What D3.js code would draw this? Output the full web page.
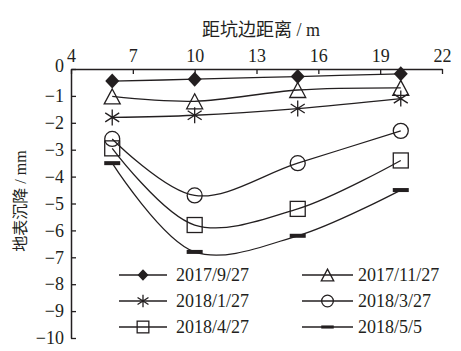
<!DOCTYPE html>
<html>
<head>
<meta charset="utf-8">
<script src="https://cdn.jsdelivr.net/npm/d3@7"></script>
<style>
  body { margin: 0; background: #fff; }
  svg { display: block; }
  text { font-family: "Liberation Serif", "Noto Sans CJK SC", serif; fill: #231f20; }
</style>
</head>
<body>
<div id="chart"></div>
<script>
// distance from pit edge (m)
const distances = [6, 10, 15, 20];
const xTicks = [4, 7, 10, 13, 16, 19, 22];
const yTicks = [0, -1, -2, -3, -4, -5, -6, -7, -8, -9, -10];

const seriesNames = ['2017/9/27', '2017/11/27', '2018/1/27', '2018/3/27', '2018/4/27', '2018/5/5'];
const seriesMarkers = ['diamond', 'triangle', 'star', 'circle', 'square', 'dash'];
const sep2017 = [-0.45, -0.38, -0.28, -0.18];
const nov2017 = [-1.02, -1.2, -0.78, -0.7];
const jan2018 = [-1.8, -1.72, -1.47, -1.1];
const mar2018 = [-2.6, -4.7, -3.5, -2.3];
const apr2018 = [-2.95, -5.8, -5.2, -3.4];
const may2018 = [-3.5, -6.8, -6.2, -4.5];
const seriesValues = [sep2017, nov2017, jan2018, mar2018, apr2018, may2018];

const width = 461;
const height = 351;
const margin = { top: 69, right: 19, bottom: 13, left: 71 };

const svg = d3.select('#chart')
    .append('svg')
    .attr('width', width)
    .attr('height', height);

svg.append('rect').attr('width', width).attr('height', height).attr('fill', '#fff');

const xScale = d3.scaleLinear().domain([4, 22]).range([margin.left, width - margin.right]);
const yScale = d3.scaleLinear().domain([-10, 0]).range([height - margin.bottom, margin.top]);

const ink = '#231f20';

// x axis on top, ticks pointing inward
const xAxis = svg.append('g')
    .attr('transform', `translate(0, ${margin.top})`)
    .call(d3.axisTop(xScale).tickValues(xTicks).tickSizeInner(-5).tickSizeOuter(0).tickPadding(9));
// y axis on left, ticks pointing inward
const yAxis = svg.append('g')
    .attr('transform', `translate(${margin.left}, 0)`)
    .call(d3.axisLeft(yScale).tickValues(yTicks).tickSizeInner(-5).tickSizeOuter(0).tickPadding(7));

[xAxis, yAxis].forEach(ax => {
    ax.select('.domain').attr('stroke', ink).attr('stroke-width', 1.5);
    ax.selectAll('.tick line').attr('stroke', ink).attr('stroke-width', 1.3);
    ax.selectAll('.tick text').style('font-size', '18px').attr('fill', ink);
});
xAxis.selectAll('.tick text').attr('dy', '0.1em');
yAxis.selectAll('.tick text').filter(d => d === 0).attr('dy', '0.15em');

// axis titles
svg.append('text')
    .attr('x', 261)
    .attr('y', 36)
    .attr('text-anchor', 'middle')
    .style('font-size', '18px')
    .text('距坑边距离 / m');

svg.append('text')
    .attr('transform', 'translate(26, 201) rotate(-90)')
    .attr('text-anchor', 'middle')
    .style('font-size', '16px')
    .text('地表沉降 / mm');

// marker drawing, k scales the symbol
function drawMarker(g, type, x, y, k = 1) {
    const s = g.append('g').attr('transform', `translate(${x}, ${y}) scale(${k})`);
    const sw = 1.3 / k;
    if (type === 'diamond') {
        s.append('path').attr('d', 'M0,-7.5L7,0L0,7.5L-7,0Z').attr('fill', ink);
    } else if (type === 'triangle') {
        s.append('path').attr('d', 'M0,-7.5L8,7.5L-8,7.5Z')
            .attr('fill', 'none').attr('stroke', ink).attr('stroke-width', sw);
    } else if (type === 'star') {
        s.append('path').attr('d', 'M0,-8V8M-7,-4.5L7,4.5M-7,4.5L7,-4.5')
            .attr('fill', 'none').attr('stroke', ink).attr('stroke-width', sw);
    } else if (type === 'circle') {
        s.append('circle').attr('r', 7.5)
            .attr('fill', 'none').attr('stroke', ink).attr('stroke-width', sw);
    } else if (type === 'square') {
        s.append('rect').attr('x', -7.5).attr('y', -7.5).attr('width', 15).attr('height', 15)
            .attr('fill', 'none').attr('stroke', ink).attr('stroke-width', sw);
    } else if (type === 'dash') {
        s.append('rect').attr('x', -8).attr('y', -2).attr('width', 16).attr('height', 4).attr('fill', ink);
    }
}

const line = d3.line()
    .x(d => xScale(d[0]))
    .y(d => yScale(d[1]))
    .curve(d3.curveCatmullRom);

const plot = svg.append('g');
seriesValues.forEach((vals, i) => {
    const pts = distances.map((d, j) => [d, vals[j]]);
    plot.append('path')
        .attr('d', line(pts))
        .attr('fill', 'none')
        .attr('stroke', ink)
        .attr('stroke-width', 1.3);
});
seriesValues.forEach((vals, i) => {
    distances.forEach((d, j) => drawMarker(plot, seriesMarkers[i], xScale(d), yScale(vals[j])));
});

// legend
const legendCols = [{ x0: 119, x1: 167, tx: 176 }, { x0: 302, x1: 353, tx: 358 }];
const legendRows = [275, 301, 327];
const legend = svg.append('g');
seriesNames.forEach((name, i) => {
    const col = legendCols[i % 2];
    const y = legendRows[Math.floor(i / 2)];
    legend.append('line')
        .attr('x1', col.x0).attr('x2', col.x1)
        .attr('y1', y).attr('y2', y)
        .attr('stroke', ink).attr('stroke-width', 1.3);
    drawMarker(legend, seriesMarkers[i], (col.x0 + col.x1) / 2, y, 0.78);
    legend.append('text')
        .attr('x', col.tx)
        .attr('y', y)
        .attr('dy', '0.33em')
        .style('font-size', '18px')
        .text(name);
});
</script>
</body>
</html>
